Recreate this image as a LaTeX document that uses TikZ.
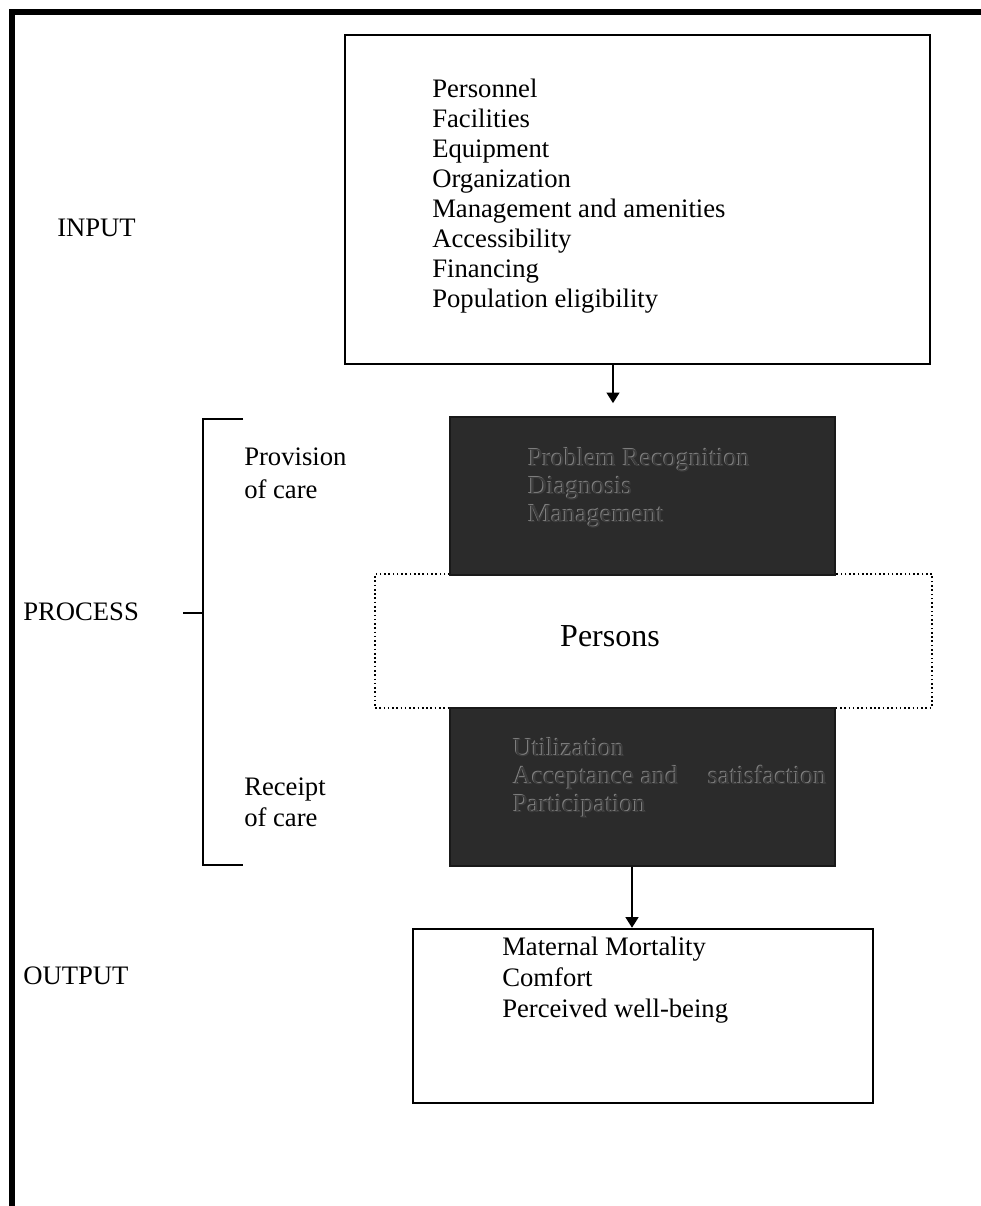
\documentclass[tikz,border=0pt]{standalone}
\usepackage{fontspec}
\setmainfont{Liberation Serif}
\usetikzlibrary{arrows.meta}
\begin{document}
\begin{tikzpicture}[x=0.75pt,y=-0.75pt,
  box/.style={draw=black, line width=1.6pt, rectangle, inner sep=0pt},
  darkbox/.style={draw=black!90, line width=1.2pt, fill=black!83, rectangle, inner sep=0pt},
  dotbox/.style={draw=black, dotted, line width=1.2pt, rectangle, inner sep=0pt},
  txt/.style={font=\fontsize{20}{22.5}\selectfont, align=left, inner sep=0pt, anchor=west},
  dtxt/.style={font=\fontsize{19.5}{21}\selectfont, align=left, inner sep=0pt, anchor=west, text=black!76},
  dglow/.style={font=\fontsize{19.5}{21}\selectfont, align=left, inner sep=0pt, anchor=west, text=black!50},
  arr/.style={line width=1.8pt, -{Triangle[length=8pt,width=9.5pt]}},
  brack/.style={line width=2pt}
]
\useasboundingbox (0,0) rectangle (981,1206);
\fill[white] (0,0) rectangle (981,1206);
\draw[line width=4.5pt] (12,1210) -- (12,12) -- (985,12);

% input
\node[box, minimum width=585*0.75pt, minimum height=329*0.75pt] (inbox) at (637.5,199.5) {};
\node[txt] (intext) at (432,196) {Personnel\\Facilities\\Equipment\\Organization\\Management and amenities\\Accessibility\\Financing\\Population eligibility};
\node[txt] (inlbl) at (57,228) {INPUT};

% persons dotted box
\node[dotbox, minimum width=557*0.75pt, minimum height=134*0.75pt] (persbox) at (653.5,641) {};
\node[font=\fontsize{24}{28}\selectfont, inner sep=0pt] (persons) at (610,636) {Persons};

% dark boxes
\node[darkbox, minimum width=385*0.75pt, minimum height=158*0.75pt] (dark1) at (642.5,496) {};
\node[dglow] (d1glow) at (527,487) {Problem Recognition\\Diagnosis\\Management};
\node[dtxt] (d1text) at (528,488) {Problem Recognition\\Diagnosis\\Management};

\node[darkbox, minimum width=385*0.75pt, minimum height=158*0.75pt] (dark2) at (642.5,787) {};
\node[dglow] (d2glow) at (512,777) {Utilization\\Acceptance and\hspace{0.9em} satisfaction\\Participation};
\node[dtxt] (d2text) at (513,778) {Utilization\\Acceptance and\hspace{0.9em} satisfaction\\Participation};

% output
\node[box, line width=1.8pt, minimum width=460*0.75pt, minimum height=174*0.75pt] (outbox) at (643,1016) {};
\node[txt, font=\fontsize{20}{23.5}\selectfont] (outtext) at (502,980) {Maternal Mortality\\Comfort\\Perceived well-being};
\node[txt] (outlbl) at (23,976) {OUTPUT};

% process bracket
\coordinate (btop) at (243,419);
\coordinate (bbot) at (243,865);
\coordinate (bmid) at (203,613);
\draw[brack] (btop) -- (203,419) -- (203,865) -- (bbot);
\draw[brack] (bmid) -- ++(-20,0);
\node[txt] (proclbl) at (23,612) {PROCESS};
\node[txt, font=\fontsize{20}{24.8}\selectfont] (provlbl) at (244,473.5) {Provision\\of care};
\node[txt, font=\fontsize{20}{23.5}\selectfont] (reclbl) at (244,802) {Receipt\\of care};

% arrows
\draw[arr] ([xshift=-24.5*0.75pt]inbox.south) -- ([xshift=-29.5*0.75pt, yshift=13*0.75pt]dark1.north);
\draw[arr] ([xshift=-10.5*0.75pt]dark2.south) -- ([xshift=-11*0.75pt]outbox.north);
\end{tikzpicture}
\end{document}
